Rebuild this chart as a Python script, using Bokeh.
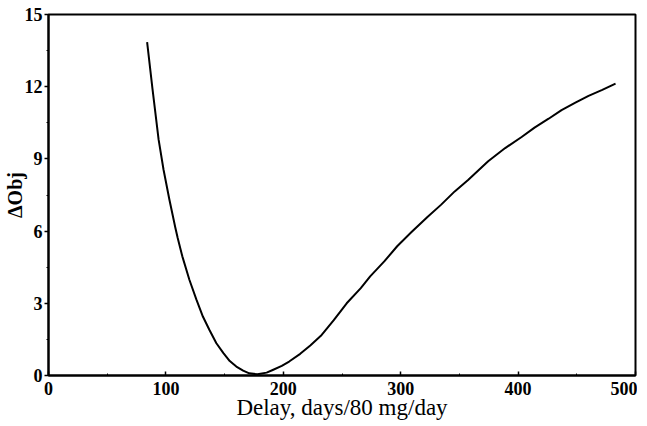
from bokeh.plotting import figure
from bokeh.models import Range1d, FixedTicker
from bokeh.embed import file_html
from bokeh.resources import INLINE

# Data
delay = [84, 88.6, 93.8, 98, 103, 108, 110, 114, 120, 126, 131.5, 137, 143,
         149, 154.4, 160, 165.8, 171, 178, 185.8, 191, 198.7, 205, 214.4,
         223, 232, 243, 254, 266, 274, 286, 297, 309, 323, 334.5, 346, 357.4,
         374.5, 389, 403, 414, 426, 437, 448.8, 460, 471.7, 483]
dobj = [13.85, 11.9, 9.8, 8.55, 7.3, 6.15, 5.72, 4.95, 3.98, 3.15, 2.45, 1.9,
        1.34, 0.93, 0.6, 0.37, 0.2, 0.09, 0.05, 0.12, 0.23, 0.4, 0.58, 0.9,
        1.25, 1.65, 2.3, 3.0, 3.63, 4.12, 4.74, 5.37, 5.95, 6.6, 7.1, 7.65,
        8.12, 8.9, 9.45, 9.91, 10.3, 10.67, 11.03, 11.34, 11.62, 11.87, 12.13]

x_ticks = [0, 100, 200, 300, 400, 500]
x_minor = [50, 150, 250, 350, 450]
y_ticks = [0, 3, 6, 9, 12, 15]
y_minor = [1.5, 4.5, 7.5, 10.5, 13.5]
x_label = "Delay, days/80 mg/day"
y_label = "\u0394Obj"

FONT = "Liberation Serif"

p = figure(width=631, height=418, output_backend="svg", toolbar_location=None,
           x_range=Range1d(0, 500), y_range=Range1d(0, 15),
           frame_width=587, frame_height=361,
           min_border_left=42, min_border_top=14, min_border_right=2,
           min_border_bottom=43)

p.line(delay, dobj, line_color="black", line_width=2, line_join="round")

p.outline_line_color = "black"
p.outline_line_width = 2
p.outline_line_alpha = 1
p.grid.visible = False

p.xaxis.ticker = FixedTicker(ticks=x_ticks, minor_ticks=x_minor)
p.yaxis.ticker = FixedTicker(ticks=y_ticks, minor_ticks=y_minor)

for ax in (p.xaxis, p.yaxis):
    ax.axis_line_width = 2
    ax.axis_line_color = "black"
    ax.major_tick_line_color = "black"
    ax.major_tick_line_width = 1.5
    ax.minor_tick_line_color = "black"
    ax.major_label_text_font = FONT
    ax.major_label_text_font_size = "18px"
    ax.major_label_text_font_style = "bold"
    ax.major_label_text_color = "black"
    ax.axis_label_text_font = FONT
    ax.axis_label_text_color = "black"

p.xaxis.axis_label_text_font_size = "23px"
p.xaxis.axis_label_text_font_style = "normal"
p.yaxis.axis_label_text_font_style = "bold"
p.yaxis.axis_label_text_font_size = "20px"

p.xaxis.major_tick_in = 4
p.xaxis.major_tick_out = 0
p.xaxis.minor_tick_in = 2
p.xaxis.minor_tick_out = 0
p.yaxis.major_tick_in = 0
p.yaxis.major_tick_out = 4
p.yaxis.minor_tick_in = 0
p.yaxis.minor_tick_out = 2

p.xaxis.axis_label = x_label
p.yaxis.axis_label = y_label
p.xaxis.major_label_standoff = 6
p.xaxis.axis_label_standoff = -3
p.yaxis.major_label_standoff = 2
p.yaxis.axis_label_standoff = -4

open("out.html", "w").write(file_html(p, INLINE))
